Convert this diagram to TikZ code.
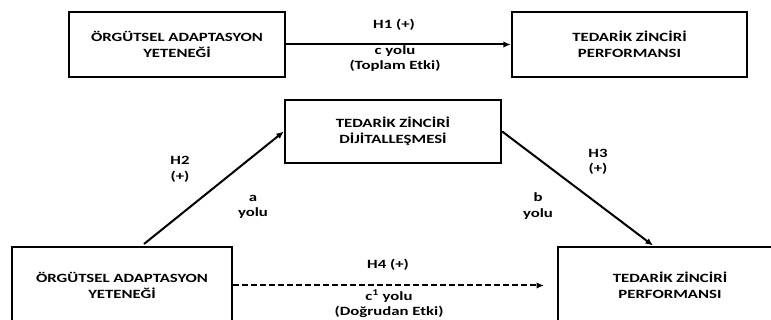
\documentclass[tikz,border=0pt]{standalone}
\usepackage{fontspec}
\setmainfont{Carlito}[FakeStretch=1.33]
\usetikzlibrary{arrows.meta}
\begin{document}
\begin{tikzpicture}[x=1pt,y=-1pt,
  font=\fontsize{12.6}{15.5}\selectfont\bfseries,
  box/.style={draw=black,line width=2.4pt,align=center,inner sep=0pt,text=black},
  lbl/.style={align=center,inner sep=0pt,text=black},
  conn/.style={line width=2pt,-{Latex[length=7.5pt,width=6.5pt]}}]
\useasboundingbox (0,0) rectangle (771,320);
\clip (0,0) rectangle (771,320);
% boxes
\node[box,minimum width=216pt,minimum height=65pt] (tl) at (177,44.5) {ÖRGÜTSEL ADAPTASYON\\YETENEĞİ};
\node[box,minimum width=235pt,minimum height=65pt] (tr) at (629.5,44.5) {TEDARİK ZİNCİRİ\\PERFORMANSI};
\node[box,minimum width=216pt,minimum height=63pt] (mid) at (393,131.5) {TEDARİK ZİNCİRİ\\DİJİTALLEŞMESİ};
\node[box,minimum width=220pt,minimum height=77pt] (bl) at (122,285.5) {ÖRGÜTSEL ADAPTASYON\\YETENEĞİ};
\node[box,minimum width=224pt,minimum height=77pt] (br) at (670,285.5) {TEDARİK ZİNCİRİ\\PERFORMANSI};
% connector ends
\coordinate (ls) at (144,244);
\coordinate (rs) at (653,245.5);
\coordinate (de) at (544,285.5);
% connectors
\draw[conn] (tl.east) -- (tl.east -| tr.west);
\draw[conn] (ls) -- (mid.west);
\draw[conn] (mid.east) -- (rs);
\draw[conn,dash pattern=on 6pt off 3pt] (bl.east) -- (de);
% labels
\node[lbl] (h1) at (394,25) {H1 (+)};
\node[lbl] (c1) at (395,58.5) {c yolu\\(Toplam Etki)};
\node[lbl] (h2) at (180,169.5) {H2\\(+)};
\node[lbl] (a1) at (253,207) {a\\yolu};
\node[lbl] (h3) at (598,162) {H3\\(+)};
\node[lbl] (b1) at (538,206) {b\\yolu};
\node[lbl] (h4) at (388,265) {H4 (+)};
\node[lbl] (c2) at (389,304) {c\textsuperscript{1} yolu\\(Doğrudan Etki)};
\end{tikzpicture}
\end{document}
